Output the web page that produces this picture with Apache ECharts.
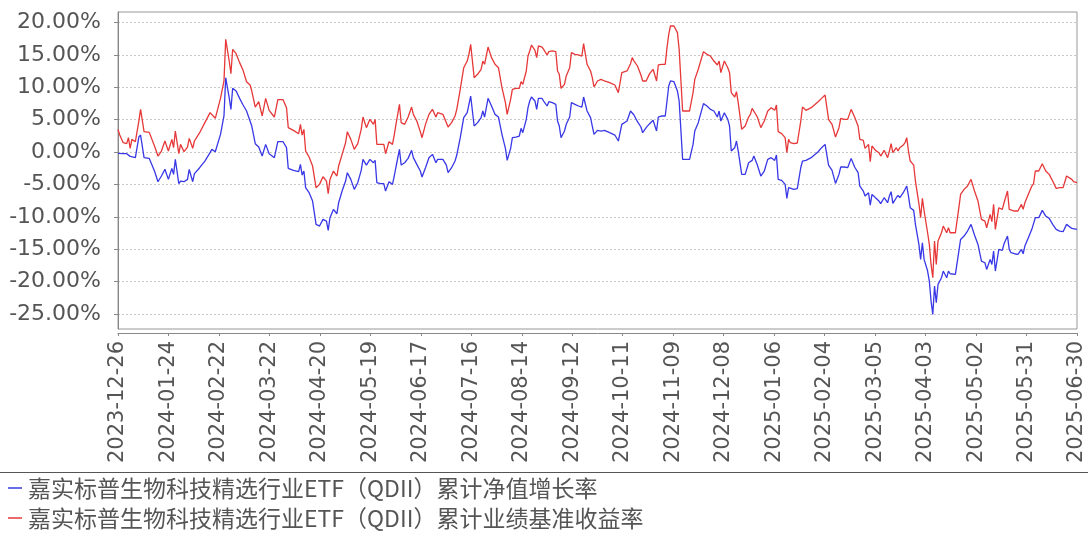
<!DOCTYPE html>
<html>
<head>
<meta charset="utf-8" />
<script src="https://cdn.jsdelivr.net/npm/echarts@6/dist/echarts.min.js"></script>
<style>
  html, body { margin: 0; padding: 0; background: #fff; }
  #chart { width: 1088px; height: 536px; }
</style>
</head>
<body>
<div id="chart"></div>
<script>
//日期
const dates = [
  "2023-12-26", "2023-12-27", "2023-12-29", "2023-12-31", "2024-01-01", "2024-01-02", "2024-01-03", "2024-01-05", "2024-01-07", "2024-01-08",
  "2024-01-09", "2024-01-10", "2024-01-13", "2024-01-16", "2024-01-18", "2024-01-20", "2024-01-22", "2024-01-24", "2024-01-26", "2024-01-27",
  "2024-01-28", "2024-01-30", "2024-01-31", "2024-02-02", "2024-02-04", "2024-02-05", "2024-02-07", "2024-02-08", "2024-02-11", "2024-02-14",
  "2024-02-17", "2024-02-18", "2024-02-20", "2024-02-23", "2024-02-25", "2024-02-26", "2024-02-28", "2024-02-29", "2024-03-01", "2024-03-03",
  "2024-03-05", "2024-03-07", "2024-03-09", "2024-03-11", "2024-03-12", "2024-03-14", "2024-03-16", "2024-03-18", "2024-03-20", "2024-03-22",
  "2024-03-25", "2024-03-27", "2024-03-30", "2024-04-01", "2024-04-02", "2024-04-05", "2024-04-08", "2024-04-09", "2024-04-10", "2024-04-11",
  "2024-04-12", "2024-04-14", "2024-04-16", "2024-04-18", "2024-04-20", "2024-04-22", "2024-04-24", "2024-04-25", "2024-04-26", "2024-04-28",
  "2024-04-30", "2024-05-01", "2024-05-03", "2024-05-05", "2024-05-06", "2024-05-08", "2024-05-10", "2024-05-12", "2024-05-14", "2024-05-15",
  "2024-05-17", "2024-05-19", "2024-05-21", "2024-05-22", "2024-05-23", "2024-05-25", "2024-05-27", "2024-05-28", "2024-05-30", "2024-06-01",
  "2024-06-02", "2024-06-03", "2024-06-05", "2024-06-06", "2024-06-08", "2024-06-10", "2024-06-12", "2024-06-13", "2024-06-15", "2024-06-17",
  "2024-06-18", "2024-06-20", "2024-06-22", "2024-06-24", "2024-06-26", "2024-06-27", "2024-06-28", "2024-06-30", "2024-07-02", "2024-07-03",
  "2024-07-05", "2024-07-07", "2024-07-08", "2024-07-10", "2024-07-12", "2024-07-14", "2024-07-15", "2024-07-16", "2024-07-18", "2024-07-20",
  "2024-07-22", "2024-07-23", "2024-07-24", "2024-07-26", "2024-07-28", "2024-07-30", "2024-08-01", "2024-08-03", "2024-08-05", "2024-08-06",
  "2024-08-08", "2024-08-09", "2024-08-11", "2024-08-13", "2024-08-14", "2024-08-15", "2024-08-17", "2024-08-18", "2024-08-19", "2024-08-20",
  "2024-08-22", "2024-08-23", "2024-08-24", "2024-08-26", "2024-08-27", "2024-08-29", "2024-08-30", "2024-09-01", "2024-09-03", "2024-09-04",
  "2024-09-05", "2024-09-06", "2024-09-08", "2024-09-09", "2024-09-11", "2024-09-12", "2024-09-14", "2024-09-16", "2024-09-18", "2024-09-19",
  "2024-09-21", "2024-09-23", "2024-09-24", "2024-09-25", "2024-09-27", "2024-09-29", "2024-10-01", "2024-10-04", "2024-10-07", "2024-10-09",
  "2024-10-11", "2024-10-14", "2024-10-16", "2024-10-17", "2024-10-18", "2024-10-20", "2024-10-22", "2024-10-23", "2024-10-25", "2024-10-27",
  "2024-10-29", "2024-10-30", "2024-10-31", "2024-11-01", "2024-11-03", "2024-11-05", "2024-11-06", "2024-11-07", "2024-11-08", "2024-11-10",
  "2024-11-12", "2024-11-13", "2024-11-15", "2024-11-17", "2024-11-19", "2024-11-21", "2024-11-22", "2024-11-24", "2024-11-27", "2024-11-29",
  "2024-12-01", "2024-12-03", "2024-12-05", "2024-12-06", "2024-12-07", "2024-12-09", "2024-12-11", "2024-12-12", "2024-12-13", "2024-12-15",
  "2024-12-16", "2024-12-17", "2024-12-19", "2024-12-21", "2024-12-23", "2024-12-24", "2024-12-25", "2024-12-26", "2024-12-28", "2024-12-30",
  "2025-01-01", "2025-01-03", "2025-01-05", "2025-01-07", "2025-01-08", "2025-01-09", "2025-01-11", "2025-01-13", "2025-01-14", "2025-01-15",
  "2025-01-16", "2025-01-18", "2025-01-20", "2025-01-22", "2025-01-23", "2025-01-25", "2025-01-28", "2025-02-01", "2025-02-03", "2025-02-05",
  "2025-02-07", "2025-02-09", "2025-02-11", "2025-02-13", "2025-02-14", "2025-02-16", "2025-02-18", "2025-02-20", "2025-02-22", "2025-02-24",
  "2025-02-25", "2025-02-27", "2025-02-28", "2025-03-02", "2025-03-03", "2025-03-04", "2025-03-06", "2025-03-08", "2025-03-09", "2025-03-11",
  "2025-03-13", "2025-03-14", "2025-03-15", "2025-03-16", "2025-03-18", "2025-03-19", "2025-03-20", "2025-03-22", "2025-03-23", "2025-03-24",
  "2025-03-25", "2025-03-26", "2025-03-28", "2025-03-29", "2025-03-31", "2025-04-01", "2025-04-02", "2025-04-03", "2025-04-05", "2025-04-06",
  "2025-04-07", "2025-04-08", "2025-04-09", "2025-04-10", "2025-04-11", "2025-04-13", "2025-04-14", "2025-04-16", "2025-04-17", "2025-04-18",
  "2025-04-21", "2025-04-23", "2025-04-24", "2025-04-26", "2025-04-28", "2025-04-30", "2025-05-02", "2025-05-04", "2025-05-06", "2025-05-08",
  "2025-05-09", "2025-05-11", "2025-05-12", "2025-05-13", "2025-05-14", "2025-05-16", "2025-05-18", "2025-05-19", "2025-05-21", "2025-05-22",
  "2025-05-23", "2025-05-25", "2025-05-27", "2025-05-29", "2025-05-30", "2025-05-31", "2025-06-02", "2025-06-04", "2025-06-05", "2025-06-06",
  "2025-06-08", "2025-06-10", "2025-06-12", "2025-06-14", "2025-06-16", "2025-06-18", "2025-06-20", "2025-06-22", "2025-06-24", "2025-06-25",
  "2025-06-27", "2025-06-28", "2025-06-30",
];

//累计净值增长率(%)
const navGrowth = [
  -0.21, -0.21, -0.26, -0.26, -0.36, -0.67, -0.46, -0.87, 2.31, 2.62,
  2.52, -0.87, -0.98, -2.93, -4.58, -3.70, -2.67, -4.22, -2.52, -3.45,
  -1.13, -4.89, -4.48, -4.58, -4.22, -2.67, -4.58, -3.34, -2.42, -1.39,
  -0.10, 0.41, 0.05, 2.73, 5.56, 11.47, 8.38, 6.58, 9.83, 9.41,
  8.28, 7.25, 6.33, 4.78, 4.01, 1.29, 0.77, -0.62, 1.18, -0.26,
  -0.87, 1.59, 1.59, 0.67, -2.52, -2.83, -3.03, -1.90, -3.55, -2.93,
  -5.50, -6.28, -7.56, -11.16, -11.42, -10.39, -10.65, -12.09, -10.13, -8.85,
  -9.52, -7.82, -6.02, -4.48, -3.19, -4.22, -5.76, -4.73, -2.83, -1.13,
  -2.01, -1.13, -1.65, -1.29, -4.73, -4.89, -4.89, -6.02, -4.58, -4.99,
  -3.70, -2.31, 0.41, -2.01, -1.65, -0.98, 0.26, -0.87, -1.90, -2.93,
  -3.86, -2.42, -0.87, -0.36, -1.65, -1.13, -0.98, -1.13, -2.01, -3.19,
  -2.42, -1.39, -0.46, 2.21, 5.30, 6.07, 7.36, 8.64, 4.01, 4.53,
  5.30, 6.33, 5.40, 8.28, 7.10, 5.81, 5.40, 2.73, 0.57, -1.29,
  0.57, 2.21, 2.31, 2.47, 3.65, 2.98, 5.04, 6.84, 7.87, 8.49,
  7.87, 6.58, 8.28, 8.28, 7.87, 7.10, 7.77, 7.61, 7.36, 4.78,
  4.01, 2.21, 3.24, 4.27, 5.40, 7.61, 7.36, 7.10, 6.94, 8.49,
  6.33, 5.30, 4.01, 2.73, 3.34, 3.24, 3.34, 2.98, 2.62, 1.70,
  4.27, 4.78, 6.33, 6.33, 5.71, 4.68, 3.86, 2.98, 3.76, 4.37,
  4.89, 4.68, 3.24, 5.40, 5.56, 5.56, 7.87, 10.19, 10.96, 10.85,
  9.41, 7.87, -1.13, -1.13, -1.13, 1.18, 3.24, 4.53, 7.46, 7.10,
  6.58, 6.33, 5.40, 6.33, 4.78, 6.07, 5.04, 4.01, 0.15, 0.67,
  1.70, 0.15, -3.45, -3.45, -1.65, -1.65, -1.29, -0.62, -2.01, -3.70,
  -2.93, -1.13, -0.87, -1.29, -0.46, -4.22, -4.37, -4.99, -7.15, -5.50,
  -5.76, -5.76, -5.66, -2.42, -1.39, -1.29, -0.87, 0.05, 0.67, 1.18,
  -2.01, -2.83, -4.84, -3.45, -2.31, -2.31, -2.42, -0.98, -2.31, -3.19,
  -5.25, -6.02, -6.79, -6.28, -8.18, -6.53, -7.05, -7.56, -7.97, -7.05,
  -7.82, -6.79, -6.12, -7.92, -7.05, -6.69, -7.05, -6.28, -6.02, -5.25,
  -6.79, -8.59, -9.00, -11.16, -14.25, -16.56, -13.99, -16.56, -18.36, -19.91,
  -22.99, -25.05, -20.68, -23.25, -20.42, -19.39, -18.36, -19.39, -18.36, -18.78,
  -18.88, -15.28, -13.48, -12.96, -12.19, -11.16, -12.81, -14.25, -16.82, -17.08,
  -18.11, -16.56, -17.34, -15.28, -18.36, -15.02, -15.17, -14.15, -12.96, -15.02,
  -15.53, -15.69, -15.79, -15.02, -15.69, -14.51, -13.22, -11.93, -11.93, -10.13,
  -10.13, -9.00, -9.88, -10.24, -11.16, -11.93, -12.19, -12.29, -11.16, -11.42,
  -11.78, -11.78, -11.93,
];

//累计业绩基准收益率(%)
const benchReturn = [
  3.50, 2.62, 1.44, 1.29, 2.21, 0.57, 1.95, 1.59, 4.78, 6.58,
  6.33, 3.14, 3.03, 0.93, -0.62, 0.15, 1.70, 0.15, 1.95, 0.67,
  3.24, -0.26, 1.18, 0.05, 0.77, 2.11, 0.57, 1.70, 2.98, 4.53,
  6.07, 6.33, 5.20, 8.28, 10.96, 17.39, 14.04, 12.09, 15.84, 15.17,
  13.79, 12.60, 10.85, 10.34, 9.41, 6.94, 7.77, 5.56, 8.28, 6.43,
  5.40, 8.08, 8.08, 6.84, 3.76, 3.34, 2.83, 4.27, 2.62, 3.50,
  0.15, -0.77, -2.16, -5.50, -4.99, -3.81, -4.48, -6.43, -4.22, -2.93,
  -3.70, -2.16, -0.36, 1.44, 3.14, 1.95, 0.41, 1.29, 3.50, 5.40,
  3.76, 5.04, 4.27, 5.04, 1.18, 1.18, 1.18, -0.26, 1.59, 1.18,
  2.62, 4.27, 7.36, 4.53, 4.27, 5.40, 6.94, 5.81, 4.78, 3.14,
  2.21, 4.27, 5.81, 6.58, 5.40, 6.07, 6.22, 5.81, 4.53, 3.86,
  4.53, 5.56, 6.58, 9.67, 13.01, 14.04, 15.07, 16.62, 11.47, 11.99,
  12.76, 14.04, 13.53, 16.20, 14.56, 13.53, 13.01, 9.93, 7.61, 5.81,
  8.13, 9.67, 9.83, 9.83, 10.85, 10.44, 12.50, 14.81, 15.59, 16.51,
  15.69, 14.56, 16.36, 16.20, 15.84, 14.97, 15.48, 15.59, 15.48, 12.50,
  11.99, 9.83, 10.44, 11.73, 13.01, 15.33, 15.07, 14.97, 14.81, 16.72,
  13.53, 12.50, 11.47, 10.03, 10.96, 11.21, 10.96, 10.70, 10.34, 9.16,
  12.24, 12.50, 13.63, 14.56, 14.04, 13.27, 11.88, 10.96, 10.96, 12.09,
  12.76, 12.76, 10.96, 13.43, 13.53, 13.53, 16.10, 18.16, 19.44, 19.44,
  18.42, 15.84, 6.33, 6.33, 6.33, 9.16, 11.21, 12.76, 15.48, 15.07,
  14.81, 14.04, 13.43, 14.04, 12.24, 14.04, 13.01, 12.24, 9.16, 8.49,
  9.31, 7.61, 3.50, 4.01, 5.40, 5.81, 6.74, 6.94, 5.40, 3.76,
  4.78, 6.33, 6.84, 6.43, 7.25, 3.14, 2.83, 2.21, -0.10, 1.95,
  1.44, 1.29, 1.39, 4.78, 6.94, 6.43, 6.84, 7.77, 8.28, 8.80,
  5.04, 4.27, 2.31, 3.76, 5.20, 5.04, 5.04, 6.58, 5.40, 4.01,
  1.95, 1.80, 0.57, 1.18, -1.49, 0.93, 0.26, -0.10, -0.62, 0.26,
  -0.87, 0.15, 1.29, -0.10, 0.67, 0.15, 0.67, 1.08, 1.44, 2.21,
  0.15, -1.39, -2.01, -4.48, -7.97, -10.13, -7.15, -9.10, -12.45, -14.25,
  -17.34, -19.39, -13.73, -17.34, -13.73, -12.45, -11.42, -12.45, -11.68, -12.45,
  -12.45, -8.59, -6.53, -5.76, -5.25, -4.22, -6.02, -7.56, -10.39, -10.65,
  -11.68, -9.62, -10.75, -8.08, -11.93, -8.59, -8.85, -7.82, -6.02, -8.85,
  -9.00, -9.10, -9.10, -8.08, -8.85, -7.82, -6.53, -5.25, -4.89, -2.93,
  -2.93, -1.80, -2.93, -3.45, -4.48, -5.61, -5.50, -5.50, -3.70, -3.96,
  -4.22, -4.58, -4.73,
];

//横轴刻度标签
const xTickLabels = [
  "2023-12-26", "2024-01-24", "2024-02-22", "2024-03-22", "2024-04-20",
  "2024-05-19", "2024-06-17", "2024-07-16", "2024-08-14", "2024-09-12",
  "2024-10-11", "2024-11-09", "2024-12-08", "2025-01-06", "2025-02-04",
  "2025-03-05", "2025-04-03", "2025-05-02", "2025-05-31", "2025-06-30",
];

const seriesNames = [
  "嘉实标普生物科技精选行业ETF（QDII）累计净值增长率",
  "嘉实标普生物科技精选行业ETF（QDII）累计业绩基准收益率",
];
const seriesColors = ["#3838e6", "#e63838"];

const DAY = 86400000;
const startTime = Date.parse(xTickLabels[0]);
const toDay = (d) => (Date.parse(d) - startTime) / DAY;
const totalDays = toDay(xTickLabels[xTickLabels.length - 1]);
//刻度等距
const tickValues = xTickLabels.map((_, i) => (i * totalDays) / (xTickLabels.length - 1));

const toPoints = (arr) => dates.map((d, i) => [toDay(d), arr[i]]);

//图例(每行一个)
const makeLegend = (name, top) => ({
  left: 3,
  top,
  icon: "rect",
  itemWidth: 14,
  itemHeight: 1.5,
  textStyle: {
    fontFamily: "Noto Sans CJK SC",
    fontSize: 23,
    color: "#555",
    lineHeight: 28,
    padding: [0, 0, 0, 1],
  },
  data: [name],
});

const chart = echarts.init(document.getElementById("chart"));
chart.setOption({
  animation: false,
  backgroundColor: "#fff",
  grid: {
    left: 118,
    right: 11,
    top: 12,
    bottom: 207,
    show: true,
    backgroundColor: "#fff",
    borderColor: "#999",
    borderWidth: 1,
  },
  legend: [makeLegend(seriesNames[0], 469), makeLegend(seriesNames[1], 499)],
  graphic: [
    {
      type: "line",
      shape: { x1: 0, y1: 472.5, x2: 1088, y2: 472.5 },
      style: { stroke: "#555", lineWidth: 1 },
    },
  ],
  xAxis: {
    type: "value",
    min: 0,
    max: totalDays,
    offset: 4,
    splitLine: { show: false },
    axisLine: { show: true, onZero: false, lineStyle: { color: "#888" } },
    axisTick: {
      show: true,
      length: 3,
      customValues: tickValues,
      lineStyle: { color: "#888" },
    },
    axisLabel: {
      customValues: tickValues,
      rotate: 90,
      margin: 8,
      fontFamily: "DejaVu Sans",
      fontSize: 21,
      color: "#555",
      formatter: (v) => xTickLabels[tickValues.indexOf(v)] || "",
    },
  },
  yAxis: {
    type: "value",
    min: -27.3,
    max: 21.6,
    splitNumber: 10,
    offset: 5,
    axisLine: { show: true, lineStyle: { color: "#888" } },
    axisTick: { show: true, length: 4, lineStyle: { color: "#888" } },
    axisLabel: {
      showMinLabel: false,
      showMaxLabel: false,
      margin: 12,
      fontFamily: "DejaVu Sans",
      fontSize: 22,
      color: "#555",
      formatter: (v) => (Math.abs(v % 5) < 1e-6 ? v.toFixed(2) + "%" : ""),
    },
    splitLine: {
      show: true,
      lineStyle: { color: "#c8c8c8", type: [2, 2], width: 1 },
    },
  },
  series: [
    {
      name: seriesNames[0],
      type: "line",
      symbol: "none",
      data: toPoints(navGrowth),
      lineStyle: { color: seriesColors[0], width: 1.3 },
      itemStyle: { color: seriesColors[0] },
    },
    {
      name: seriesNames[1],
      type: "line",
      symbol: "none",
      data: toPoints(benchReturn),
      lineStyle: { color: seriesColors[1], width: 1.3 },
      itemStyle: { color: seriesColors[1] },
    },
  ],
});
</script>
</body>
</html>
